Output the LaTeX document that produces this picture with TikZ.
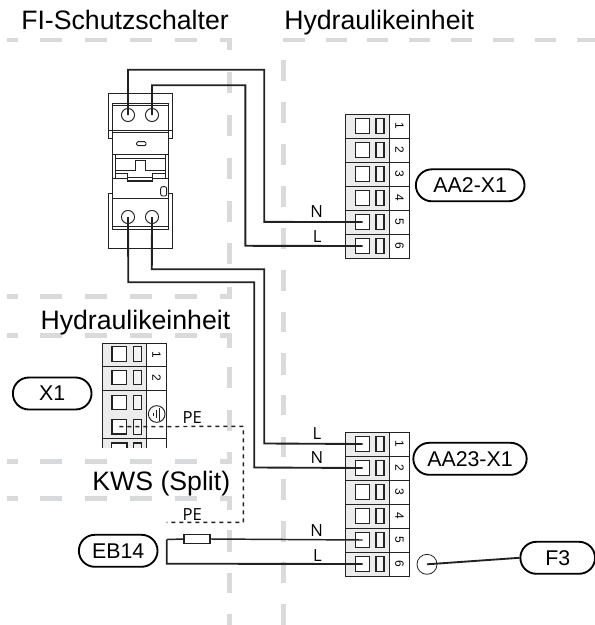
\documentclass[tikz,border=0pt]{standalone}
\usepackage{fontspec}
\setmainfont{Liberation Sans}
\newfontfamily\lblfont{Open Sans}
\definecolor{dashgray}{HTML}{D9DADC}
\definecolor{blockgray}{HTML}{ECECEC}
\definecolor{ink}{HTML}{222222}
\tikzset{
  wire/.style={draw=ink,line width=1.4pt,line join=miter},
  thinline/.style={draw=ink,line width=0.5pt},
  frameline/.style={draw=ink,line width=0.7pt},
  zonedash/.style={draw=dashgray,line width=3.5pt},
  pedash/.style={draw=ink,line width=1.1pt,dash pattern=on 3pt off 3pt},
  pill/.style={draw=black,line width=1.4pt,rounded corners=12pt,minimum width=#1,minimum height=24pt,inner sep=0pt,font=\fontsize{16}{16}\selectfont,fill=white},
  title/.style={inner sep=0pt,font=\fontsize{20}{20}\selectfont,anchor=base west},
  wirelabel/.style={inner sep=0pt,font=\lblfont\fontsize{12.5}{12.5}\selectfont,anchor=base},
  termsq/.style={draw=ink,line width=0.9pt,fill=white,minimum width=11pt,minimum height=11pt,inner sep=0pt},
  termsmall/.style={draw=ink,line width=0.8pt,fill=blockgray!60,minimum width=6pt,minimum height=11pt,inner sep=0pt},
  termnum/.style={inner sep=0pt,font=\fontsize{9}{9}\selectfont,rotate=-90},
  screw/.style={circle,draw=ink,line width=0.7pt,fill=white,minimum size=9.8pt,inner sep=0pt},
}
\newcommand{\termblock}[2]{% prefix, top y
  \fill[blockgray] (345,#2) rectangle (389.3,#2+144);
  \foreach \i [evaluate=\i as \yy using #2+24*\i-24, evaluate=\i as \yc using #2+24*\i-12] in {1,...,6} {
    \draw[frameline] (345,\yy) -- (409,\yy);
    \node[termsq] (#1sq\i) at (362.5,\yc) {};
    \node[termsmall] (#1sm\i) at (380,\yc) {};
    \node[termnum] (#1n\i) at (399.5,\yc) {\i};
  }
  \draw[frameline] (345,#2) rectangle (409,#2+144);
  \draw[frameline] (389.3,#2) -- (389.3,#2+144);
}
\begin{document}
\begin{tikzpicture}[x=0.75pt,y=-0.75pt]
\useasboundingbox (0,0) rectangle (595,625);
% zone dashes
\foreach \y in {40,296.7,335.7,461.7,498.3} {
  \foreach \a/\b in {7/18,40/62,85/107,130/152,175/197} \draw[zonedash] (\a,\y) -- (\b,\y);
}
\draw[zonedash] (220,40) -- (229.5,40) -- (229.5,50);
\draw[zonedash] (229.5,287) -- (229.5,296.7) -- (220,296.7);
\draw[zonedash] (220,335.7) -- (229.5,335.7) -- (229.5,348);
\draw[zonedash] (229.5,452) -- (229.5,461.7) -- (220,461.7);
\draw[zonedash] (220,498.3) -- (229.5,498.3) -- (229.5,510);
\foreach \a/\b in {72/93,115/136,158/179,201/222,243/264,367/388,410/431,530/552,573/593,614/625}
  \draw[zonedash] (229.5,\a) -- (229.5,\b);
\foreach \a/\b in {60/81,102/123,144/165,186/207,228/249,270/291,312/332,353/375,395/415,437/457,479/500,521/542,562/583,604/625}
  \draw[zonedash] (283.3,\a) -- (283.3,\b);
\foreach \a/\b in {283.3/305,325.7/346.5,367.3/388,409/430,451/472,493/514,535/556,576.7/595}
  \draw[zonedash] (\a,40) -- (\b,40);
% titles
\node[title] (t1) at (21,29) {FI-Schutzschalter};
\node[title] (t2) at (284,29) {Hydraulikeinheit};
\node[title,anchor=base east] (t3) at (230.5,329) {Hydraulikeinheit};
\node[title,anchor=base east] (t4) at (230.5,490) {KWS (Split)};
% breaker
\draw[frameline] (112,130) -- (108,130) -- (108,93) -- (172,93) -- (172,138) -- (168,138);
\draw[frameline] (112,138) -- (108,138) -- (108,130);
\draw[frameline] (112,198) -- (112,193) -- (108,193) -- (108,248) -- (172,248) -- (172,193) -- (168,193);
\draw[frameline] (112,103) rectangle (168,229);
\draw[thinline] (112,105.5) -- (168,105.5);
\draw[frameline] (112,130) -- (173,130);
\draw[thinline] (112,132) -- (168,132);
\draw[frameline] (112,198) -- (168,198);
\draw[thinline] (112,226.5) -- (168,226.5);
\draw[frameline,rounded corners=1pt] (136.7,141.7) rectangle (146,145.7);
\draw[frameline] (112,154.3) -- (168,154.3);
\draw[frameline] (112.3,178.3) -- (127.7,178.3);
\draw[frameline] (152.7,178.3) -- (168,178.3);
\draw[frameline] (115.7,154.3) -- (115.7,178.3);
\draw[frameline] (165,154.3) -- (165,178.3);
\draw[thinline] (115.7,158) -- (165,158);
\draw[frameline] (115.7,170) -- (135.7,170) -- (135.7,160) -- (145,160) -- (145,170) -- (165,170);
\draw[frameline] (115.7,173.3) -- (127.7,173.3) -- (127.7,181.7);
\draw[frameline] (165,173.3) -- (152.7,173.3) -- (152.7,181.7);
\draw[draw=ink,line width=1.2pt] (127.7,181) -- (152.7,181);
\draw[thinline] (127.7,177.5) -- (152.7,177.5);
\draw[frameline,rounded corners=1.5pt] (160.7,186.7) rectangle (166.7,196);
\node[screw] (sa) at (128,115) {};
\node[screw] (sb) at (152,115) {};
\node[screw] (sc) at (128,217) {};
\node[screw] (sd) at (152,217) {};
% terminal blocks
\termblock{a}{114}
\termblock{b}{432}
% X1 block
\fill[blockgray] (102.7,343.3) rectangle (146.7,448.3);
\draw[frameline] (102.7,448.3) -- (102.7,343.3) -- (166,343.3) -- (166,448.3);
\draw[frameline] (146.7,343.3) -- (146.7,448.3);
\draw[frameline] (102.7,366.7) -- (166,366.7);
\draw[frameline] (102.7,390.3) -- (166,390.3);
\draw[frameline] (102.7,438.3) -- (166,438.3);
\foreach \n/\y in {1/354.2,2/377.5,3/402.5,4/426.7} {
  \node[termsq] (csq\n) at (119.3,\y) {};
  \node[termsmall] (csm\n) at (137.5,\y) {};
}
\node[termnum] (cn1) at (156.5,354.5) {1};
\node[termnum] (cn2) at (156.5,378) {2};
\draw[draw=ink,line width=0.9pt,fill=white] (111.7,448.3) -- (111.7,443) -- (127,443) -- (127,448.3);
\draw[draw=ink,line width=0.8pt] (133.3,448.3) -- (133.3,443) -- (141.7,443) -- (141.7,448.3);
\node[circle,draw=ink,line width=0.7pt,minimum size=12.5pt,inner sep=0pt] (gnd) at (156.7,414) {};
\draw[thinline] (159.7,407.5) -- (159.7,420.5);
\draw[thinline] (156.2,410) -- (156.2,418);
\draw[thinline] (153,412.5) -- (153,415.5);
% wires
\draw[wire] (sa.center) -- (128,69.7) -- (264.3,69.7) -- (264.3,221.9) -- (asq5.center);
\draw[wire] (sb.center) -- (152,85.3) -- (245.4,85.3) -- (245.4,245.8) -- (asq6.center);
\draw[wire] (sc.center) -- (128.3,282.3) -- (254.3,282.3) -- (254.3,467.5) -- (bsq2.center);
\draw[wire] (sd.center) -- (151.8,269.3) -- (264.3,269.3) -- (264.3,443.5) -- (bsq1.center);
% EB14 circuit
\node[draw=ink,line width=0.9pt,fill=white,minimum width=19.5pt,minimum height=7.2pt,inner sep=0pt] (res) at (197,539) {};
\coordinate (c1) at (166.7,539.5);
\draw[wire,line width=1.1pt] (res.east) -- (bsq5.center);
\draw[wire,line width=1.1pt] (res.west) -- (c1);
\draw[wire] (c1) -- (166.7,563.7) -- (bsq6.center);
% PE dashed
\coordinate (pe1) at (166.7,522.3);
\draw[pedash] (csq4.center) -- (243.3,426.3) -- (243.3,522.3) -- (pe1);
% pills
\node[pill=81.5pt] (aa2) at (470.2,185.3) {AA2-X1};
\node[pill=85pt] (aa23) at (470,458.8) {AA23-X1};
\node[pill=59pt] (x1) at (52.2,393.5) {X1};
\node[pill=59pt] (eb14) at (118.2,550.8) {EB14};
\node[pill=56pt] (f3) at (557.7,557.8) {F3};
\node[circle,draw=ink,line width=0.6pt,minimum size=15pt,inner sep=0pt] (f3c) at (427,564.3) {};
\draw[wire] (f3c.center) -- (f3.west);
% wire labels
\node[wirelabel] (ln1) at (316.7,217.5) {N};
\node[wirelabel] (ll1) at (317.3,242) {L};
\node[wirelabel] (ll2) at (317,439) {L};
\node[wirelabel] (ln2) at (317,463) {N};
\node[wirelabel] (ln3) at (316.7,536.5) {N};
\node[wirelabel] (ll3) at (317.5,561) {L};
\node[wirelabel] (pe1l) at (192.3,423) {PE};
\node[wirelabel] (pe2l) at (192.3,520) {PE};
\end{tikzpicture}
\end{document}
